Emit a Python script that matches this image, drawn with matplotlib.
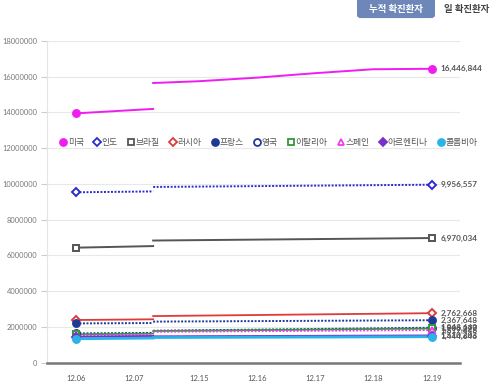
import matplotlib
matplotlib.use("Agg")
import matplotlib.pyplot as plt
from matplotlib.patches import FancyBboxPatch
from matplotlib.lines import Line2D

# x axis labels and where they sit (the chart has a break after 12.07)
dates = ['12.06', '12.07', '12.15', '12.16', '12.17', '12.18', '12.19']
date_pos = [0, 1, 2.12, 3.12, 4.12, 5.12, 6.14]
break_pos = 1.33

countries = ['미국', '인도', '브라질', '러시아', '프랑스', '영국', '이탈리아', '스페인', '아르헨티나', '콜롬비아']
# first segment: 12.06 -> break
val_0612 = [13950000, 9530000, 6430000, 2380000, 2190000, 1630000, 1580000, 1520000, 1440000, 1330000]
val_brk_a = [14200000, 9580000, 6520000, 2420000, 2210000, 1660000, 1620000, 1560000, 1480000, 1370000]
# second segment: break -> 12.19
val_brk_b = [15650000, 9830000, 6830000, 2600000, 2290000, 1780000, 1760000, 1720000, 1460000, 1400000]
val_1219 = [16446844, 9956557, 6970034, 2762668, 2367648, 1948660, 1906377, 1817448, 1510203, 1444646]
# US curve between 12.15 and 12.18
us_mid = [15750000, 15950000, 16200000, 16420000]

colors = ['#f01cf0', '#2b2bd0', '#555555', '#e03a3a', '#1f3a96', '#1f3a96',
          '#2e9a3a', '#f03cf0', '#7a2fc8', '#2ab3e6']
markers = ['o', 'D', 's', 'D', 'o', 'o', 's', '^', 'D', 'o']
msizes = [5, 3.8, 3.8, 3.8, 5, 5, 3.8, 4.3, 4.3, 5]
filled = [True, False, False, False, True, False, False, False, True, True]
styles = ['-', (0, (1, 0.8)), '-', '-', (0, (1, 0.8)), (0, (1, 0.8)), '-', (0, (1, 0.8)), '-', '-']
widths = [1.4, 1.4, 1.4, 1.3, 1.4, 1.4, 1.3, 1.4, 1.5, 2.0]

yticks = list(range(0, 18000001, 2000000))

num_font = ['Lato', 'Noto Sans CJK KR']
kr_font = ['Noto Sans CJK KR', 'DejaVu Sans']

fig = plt.figure(figsize=(5, 3.85), dpi=100)
ax = fig.add_axes([0.094, 0.0584, 0.826, 0.835])

for i in range(len(countries)):
    c = colors[i]
    ax.plot([date_pos[0], break_pos], [val_0612[i], val_brk_a[i]],
            color=c, ls=styles[i], lw=widths[i], zorder=3)
    if i == 0:
        xs = [break_pos] + date_pos[2:]
        ys = [val_brk_b[i]] + us_mid + [val_1219[i]]
    else:
        xs = [break_pos, date_pos[-1]]
        ys = [val_brk_b[i], val_1219[i]]
    ax.plot(xs, ys, color=c, ls=styles[i], lw=widths[i], zorder=3)
    fc = c if filled[i] else 'white'
    ax.plot([date_pos[0], date_pos[-1]], [val_0612[i], val_1219[i]], ls='none',
            marker=markers[i], ms=msizes[i], mfc=fc, mec=c, mew=1.4, zorder=4)
    ax.text(date_pos[-1] + 0.14, val_1219[i], f'{val_1219[i]:,}', fontsize=5.9,
            color='#555555', va='center', ha='left', family=num_font,
            fontweight='bold')

ax.set_xlim(-0.5, 6.62)
ax.set_ylim(0, 18000000)
ax.set_yticks(yticks)
ax.set_yticklabels([str(v) for v in yticks], fontsize=5.4, color='#777777',
                   family=num_font)
ax.set_xticks(date_pos)
ax.set_xticklabels(dates, fontsize=5.5, color='#555555', family=num_font)
ax.tick_params(axis='x', length=0, pad=9)
ax.tick_params(axis='y', length=4, color='#cccccc', pad=3)
ax.yaxis.grid(True, color='#e8e8e8', lw=0.8)
ax.set_axisbelow(True)
for s in ['top', 'right']:
    ax.spines[s].set_visible(False)
ax.spines['left'].set_color('#e4e4e4')
ax.spines['bottom'].set_color('#777777')
ax.spines['bottom'].set_linewidth(1.8)

# legend row
handles = []
for i in range(len(countries)):
    fc = colors[i] if filled[i] else 'white'
    handles.append(Line2D([], [], ls='none', marker=markers[i], ms=msizes[i],
                          mfc=fc, mec=colors[i], mew=1.3, label=countries[i]))
fig.legend(handles=handles, loc='center', bbox_to_anchor=(0.536, 0.629), ncol=10,
           frameon=False, handletextpad=0.05, columnspacing=1.0, handlelength=1.0,
           prop={'family': kr_font, 'size': 6.3}, labelcolor='#555555')

# tab buttons at top right
fig.patches.append(FancyBboxPatch((0.714, 0.953), 0.156, 0.06, transform=fig.transFigure,
                                  boxstyle='round,pad=0,rounding_size=0.008',
                                  fc='#6d87b8', ec='none'))
fig.text(0.792, 0.976, '누적 확진환자', color='white', fontsize=6.8, ha='center',
         va='center', family=kr_font, fontweight='bold')
fig.text(0.934, 0.976, '일 확진환자', color='#444444', fontsize=6.8, ha='center',
         va='center', family=kr_font, fontweight='bold')

fig.savefig('out.png', dpi=100)
